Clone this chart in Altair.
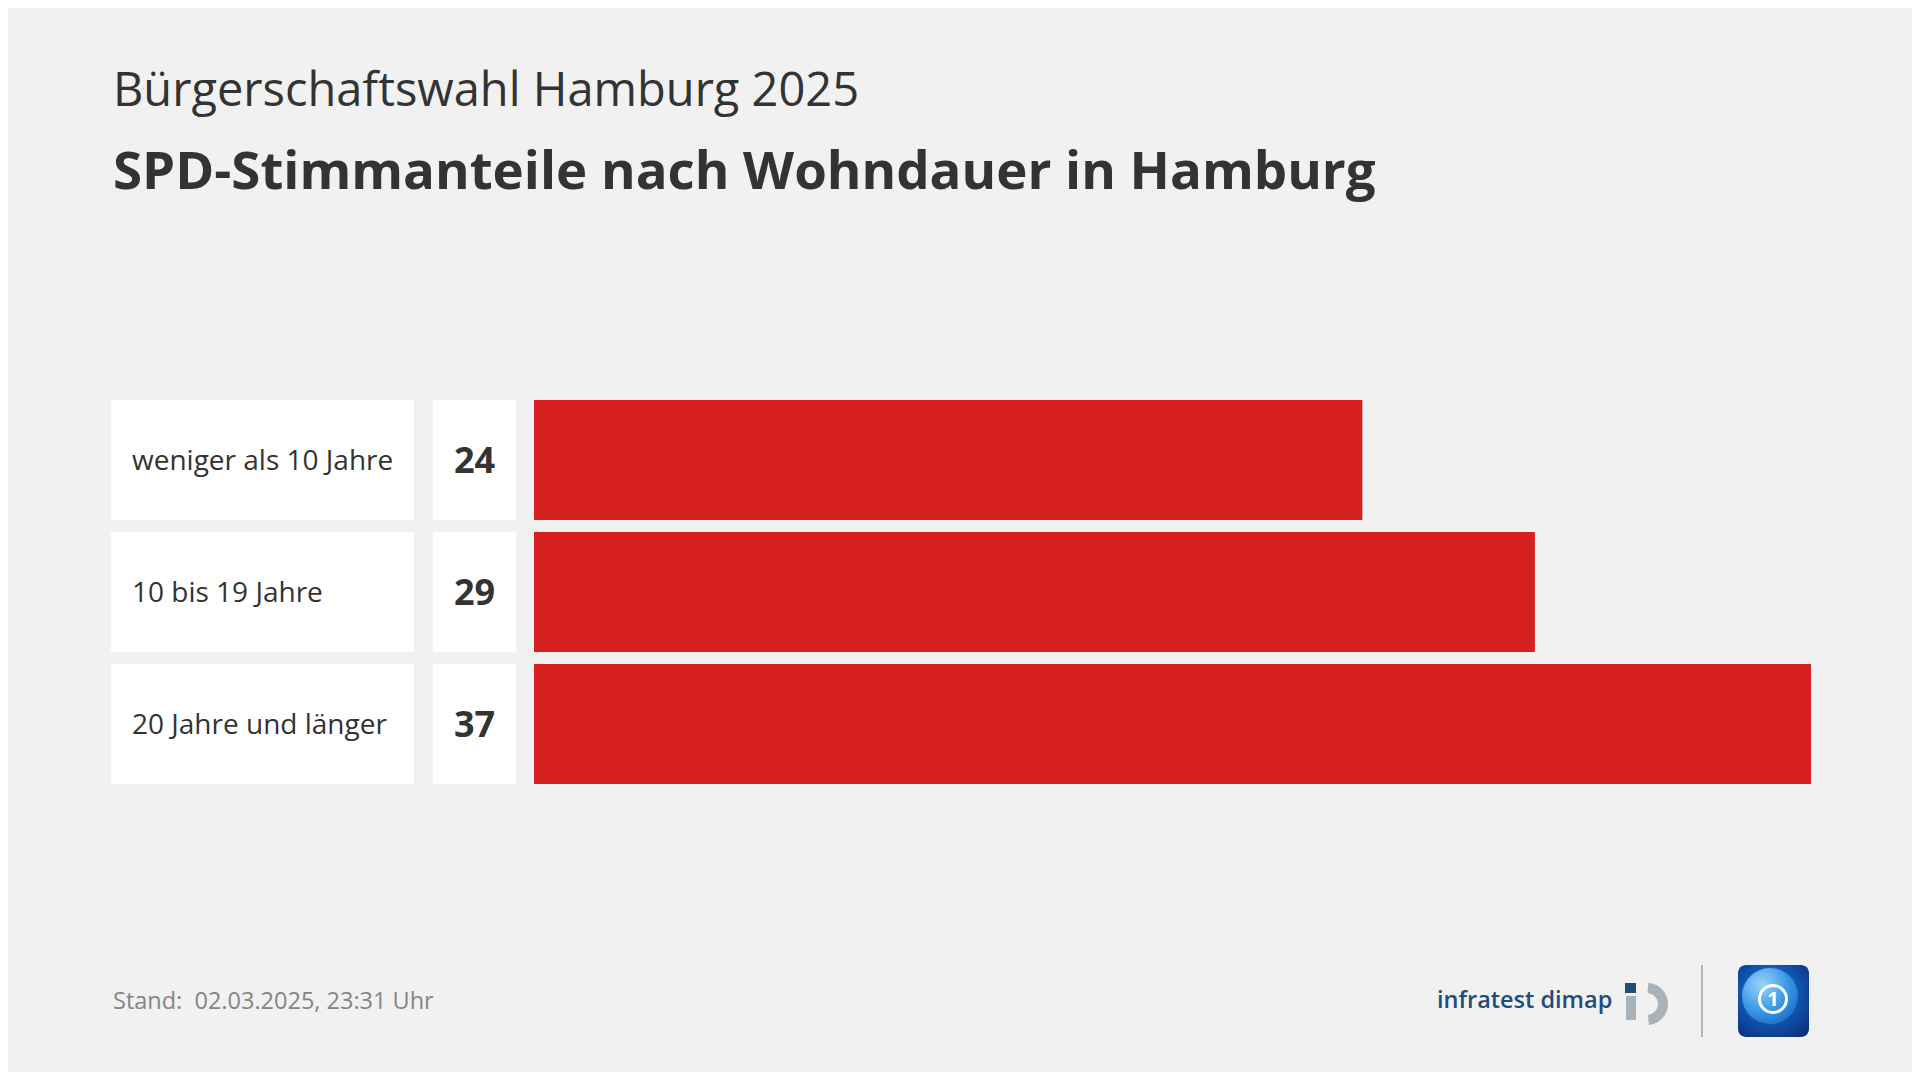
import altair as alt
import pandas as pd

# ---- data ----
categories = ["weniger als 10 Jahre", "10 bis 19 Jahre", "20 Jahre und länger"]
values = [24, 29, 37]
kicker = "Bürgerschaftswahl Hamburg 2025"
headline = "SPD-Stimmanteile nach Wohndauer in Hamburg"
footer = "Stand:\u00a0 02.03.2025, 23:31 Uhr"
brand = "infratest dimap"

df = pd.DataFrame({"cat": categories, "val": values})
one = pd.DataFrame({"k": [0]})

FONT = "Open Sans"
DARK = "#333333"
RED = "#d61f1f"
BG = "#f1f1f1"

yscale = alt.Scale(domain=categories, range=[392, 776], paddingInner=0.0909, paddingOuter=0)
xscale = alt.Scale(domain=[0, 37], range=[526, 1803], nice=False, zero=True)
Y = alt.Y("cat:N", scale=yscale, axis=None, sort=categories)

label_box = alt.Chart(df).mark_rect(color="white").encode(
    x=alt.value(103), x2=alt.value(406), y=Y)
value_box = alt.Chart(df).mark_rect(color="white").encode(
    x=alt.value(425), x2=alt.value(508), y=Y)
bars = alt.Chart(df).mark_bar(color=RED, cornerRadius=0).encode(
    x=alt.X("val:Q", scale=xscale, axis=None), y=Y)
label_text = alt.Chart(df).mark_text(
    align="left", baseline="middle", font=FONT, fontSize=28, color=DARK, dy=2
).encode(x=alt.value(124), y=Y, text="cat:N")
value_text = alt.Chart(df).mark_text(
    align="center", baseline="middle", font=FONT, fontSize=36, fontWeight="bold", color=DARK, dy=2
).encode(x=alt.value(466.5), y=Y, text="val:Q")

def txt(s, x, y, size, weight="normal", color=DARK, align="left"):
    d = pd.DataFrame({"t": [s]})
    return alt.Chart(d).mark_text(
        align=align, baseline="alphabetic", font=FONT, fontSize=size,
        fontWeight=weight, color=color
    ).encode(x=alt.value(x), y=alt.value(y), text="t:N")

kicker_t = txt(kicker, 105, 98, 47)
headline_t = txt(headline, 105, 181, 52.8, weight="bold")
footer_t = txt(footer, 105, 1001, 23.5, color="#858585")
brand_t = txt(brand, 1429, 1000, 23.5, weight=600, color="#1e4d7b")

# infratest dimap mark
id_square = alt.Chart(one).mark_rect(color="#1e4d7b").encode(
    x=alt.value(1617), x2=alt.value(1628), y=alt.value(975), y2=alt.value(985))
id_stem = alt.Chart(one).mark_rect(color="#a9b1b9").encode(
    x=alt.value(1618), x2=alt.value(1628), y=alt.value(988), y2=alt.value(1012))
id_arc = alt.Chart(one).mark_arc(
    color="#a9b1b9", radius=21, radius2=11, theta=0.05, theta2=3.05
).encode(x=alt.value(1639), y=alt.value(996))

sep = alt.Chart(one).mark_rule(color="#b5b5b5", strokeWidth=2).encode(
    x=alt.value(1694), y=alt.value(957), y2=alt.value(1029))

ts_box = alt.Chart(one).mark_rect(
    cornerRadius=8,
    fill=alt.Gradient(
        gradient="radial",
        stops=[alt.GradientStop(color="#2f86d8", offset=0),
               alt.GradientStop(color="#0f4fa8", offset=0.6),
               alt.GradientStop(color="#0a2f78", offset=1)],
        x1=0.45, y1=0.4, r1=0, x2=0.45, y2=0.4, r2=0.75),
).encode(x=alt.value(1730), x2=alt.value(1801), y=alt.value(957), y2=alt.value(1029))
ts_globe = alt.Chart(one).mark_arc(
    radius=28, radius2=0, theta=0, theta2=6.2832,
    fill=alt.Gradient(
        gradient="radial",
        stops=[alt.GradientStop(color="#9ad4f8", offset=0),
               alt.GradientStop(color="#3a98e6", offset=0.55),
               alt.GradientStop(color="#1565c0", offset=1)],
        x1=0.35, y1=0.3, r1=0, x2=0.35, y2=0.3, r2=0.85),
).encode(x=alt.value(1762), y=alt.value(988))
ts_ring = alt.Chart(one).mark_arc(
    color="white", radius=15, radius2=12, theta=0, theta2=6.2832
).encode(x=alt.value(1765), y=alt.value(991))
ts_one = alt.Chart(pd.DataFrame({"t": ["1"]})).mark_text(
    align="center", baseline="middle", font=FONT, fontSize=20, fontWeight="bold", color="white"
).encode(x=alt.value(1765), y=alt.value(992), text="t:N")

chart = alt.layer(
    label_box, value_box, bars, label_text, value_text,
    kicker_t, headline_t, footer_t, brand_t,
    id_square, id_stem, id_arc, sep, ts_box, ts_globe, ts_ring, ts_one,
).properties(
    width=1904, height=1064, autosize=alt.AutoSizeParams(type="none"), padding=0,
    background=BG,
).configure_view(stroke=None)

chart.save("out.html", embed_options={"renderer": "svg", "actions": False})
